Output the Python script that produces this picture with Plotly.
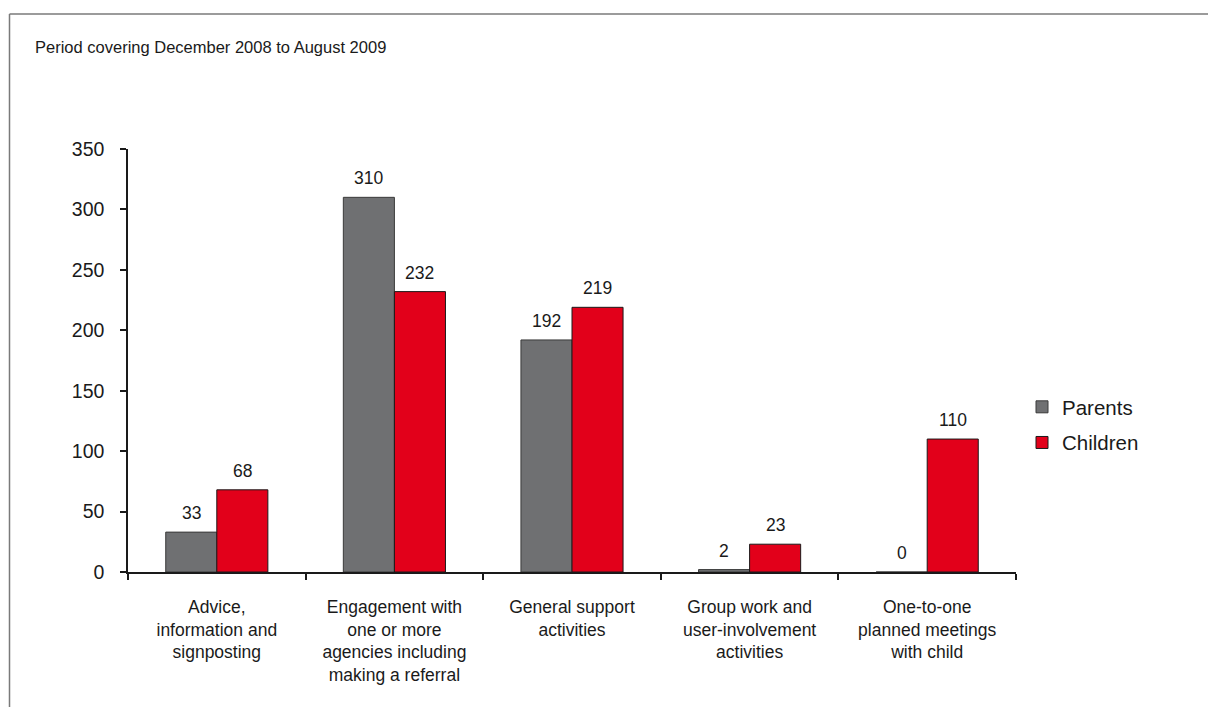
import plotly.graph_objects as go

categories = [
    "Advice,<br>information and<br>signposting",
    "Engagement with<br>one or more<br>agencies including<br>making a referral",
    "General support<br>activities",
    "Group work and<br>user-involvement<br>activities",
    "One-to-one<br>planned meetings<br>with child",
]
parents = [33, 310, 192, 2, 0]
children = [68, 232, 219, 23, 110]
y_ticks = [0, 50, 100, 150, 200, 250, 300, 350]
subtitle = "Period covering December 2008 to August 2009"

FONT = "Liberation Sans, Arial, Helvetica, sans-serif"
TXT = "#1a1a1a"
BARGAP = 0.425

fig = go.Figure()
fig.add_trace(go.Bar(
    x=categories, y=parents, name="Parents",
    marker=dict(color="#6f7072", line=dict(color="#3a3a3a", width=1)),
    legendgroup="p",
))
fig.add_trace(go.Bar(
    x=categories, y=children, name="Children",
    marker=dict(color="#e2001a", line=dict(color="#1a1a1a", width=1)),
    legendgroup="c",
))

L, R, T, B = 128, 1016, 149, 572
W, H = 1208, 707
pw, ph = R - L, B - T

def px_x(x):
    return (x - L) / pw

def px_y(y):
    return (B - y) / ph

shapes = [
    dict(type="line", xref="paper", yref="paper",
         x0=px_x(9.5), x1=px_x(1210), y0=px_y(14), y1=px_y(14),
         line=dict(color="#7a7a7a", width=1.5)),
    dict(type="line", xref="paper", yref="paper",
         x0=px_x(9.5), x1=px_x(9.5), y0=px_y(14), y1=px_y(710),
         line=dict(color="#7a7a7a", width=1.5)),
]

# value labels, positioned through the axes from the data arrays
half = (1 - BARGAP) / 4  # centre offset of each of the two bars in a group
annotations = []
for i, (pv, cv) in enumerate(zip(parents, children)):
    for val, xs in ((pv, -half), (cv, half)):
        annotations.append(dict(
            x=i + xs, y=val, xref="x", yref="y", text=str(val),
            showarrow=False, yanchor="bottom", xanchor="center", yshift=7,
            font=dict(size=17.5, family=FONT, color=TXT),
        ))

annotations.append(dict(text=subtitle, xref="paper", yref="paper",
                        x=px_x(33), y=px_y(47), xanchor="left", yanchor="middle",
                        showarrow=False, font=dict(size=16.5, family=FONT, color=TXT)))

fig.update_layout(
    width=W, height=H,
    margin=dict(l=L, r=W - R, t=T, b=H - B, autoexpand=False),
    paper_bgcolor="white", plot_bgcolor="white",
    barmode="group", bargap=BARGAP, bargroupgap=0,
    font=dict(family=FONT, color=TXT),
    showlegend=True,
    legend=dict(x=px_x(1022), y=px_y(425), xanchor="left", yanchor="middle",
                font=dict(size=20.5, family=FONT, color=TXT),
                tracegroupgap=6, bgcolor="rgba(0,0,0,0)"),
    shapes=shapes,
    annotations=annotations,
)
fig.update_xaxes(
    type="category", showline=True, linecolor=TXT, linewidth=1.5,
    ticks="outside", tickson="boundaries", ticklen=6, tickcolor=TXT, tickwidth=1.5,
    ticklabelstandoff=18,
    showgrid=False, tickfont=dict(size=17.5, family=FONT, color=TXT),
)
fig.update_yaxes(
    range=[0, 350], tickvals=y_ticks, showline=True, linecolor=TXT, linewidth=1.5,
    ticks="outside", ticklen=6, tickcolor=TXT, tickwidth=1.5,
    ticklabelstandoff=12,
    showgrid=False, zeroline=False, tickfont=dict(size=19.5, family=FONT, color=TXT),
)

fig.write_html("out.html", config={"displayModeBar": False},
               post_script="document.body.style.margin='0';document.body.style.overflow='hidden';")
